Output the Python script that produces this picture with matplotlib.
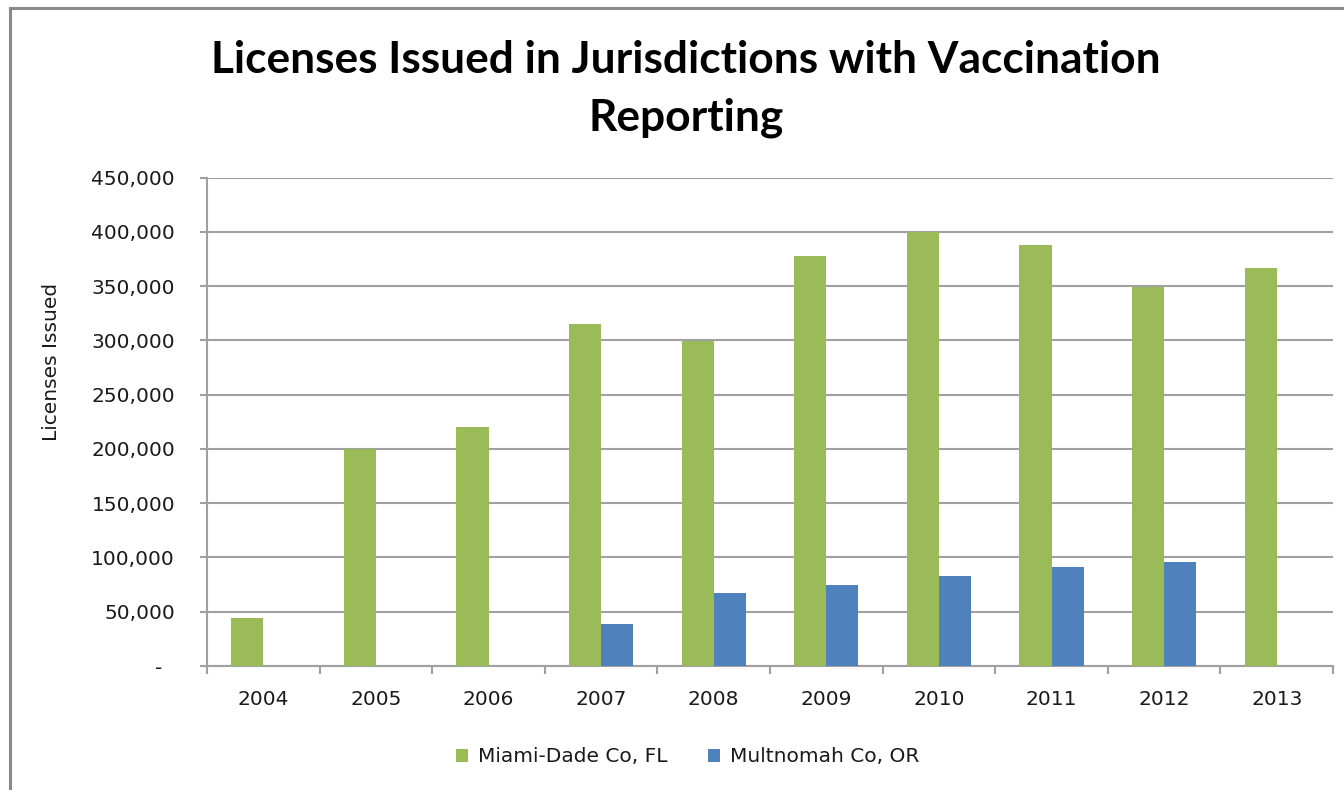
import numpy as np
import matplotlib
matplotlib.use("Agg")
import matplotlib.pyplot as plt
from matplotlib.ticker import FuncFormatter, FixedLocator, MultipleLocator
from matplotlib.patches import Rectangle

years = ["2004", "2005", "2006", "2007", "2008", "2009", "2010", "2011", "2012", "2013"]
miami_dade = [44000, 200000, 220000, 315000, 299000, 378000, 400000, 388000, 349000, 367000]
multnomah = [np.nan, np.nan, np.nan, 39000, 67500, 75000, 82500, 91000, 95500, np.nan]
series_names = ["Miami-Dade Co, FL", "Multnomah Co, OR"]
title_lines = ["Licenses Issued in Jurisdictions with Vaccination", "Reporting"]
y_label = "Licenses Issued"

GREEN = "#9BBB59"
BLUE = "#4F81BD"
GRID = "#A0A0A0"
W, H = 1344, 790

fig = plt.figure(figsize=(W / 100, H / 100), dpi=100)
ax = fig.add_axes([207 / W, 1 - 666 / H, (1333 - 207) / W, (666 - 177.5) / H])

x = np.arange(len(years))
bw = 0.285
ax.bar(x - bw / 2, miami_dade, bw, color=GREEN, label=series_names[0], zorder=3)
ax.bar(x + bw / 2, multnomah, bw, color=BLUE, label=series_names[1], zorder=3)

ax.set_xlim(-0.5, len(years) - 0.5)
ax.set_ylim(0, 450000)
ax.yaxis.set_major_locator(MultipleLocator(50000))
ax.yaxis.set_major_formatter(FuncFormatter(lambda v, p: "-  " if v == 0 else f"{v:,.0f}"))
ax.grid(axis="y", color=GRID, linewidth=1.5, zorder=0)
ax.set_axisbelow(True)

ax.set_xticks(x)
ax.set_xticklabels(years)
ax.xaxis.set_minor_locator(FixedLocator(np.arange(-0.5, len(years), 1.0)))
ax.tick_params(axis="x", which="major", length=0, pad=17, labelsize=14.5, labelcolor="#1a1a1a")
ax.tick_params(axis="x", which="minor", length=6, width=1.5, color=GRID, direction="out")
ax.tick_params(axis="y", which="major", length=5, width=1.5, color=GRID, pad=18,
               labelsize=14.5, labelcolor="#1a1a1a")

for s in ["top", "right"]:
    ax.spines[s].set_visible(False)
for s in ["left", "bottom"]:
    ax.spines[s].set_color(GRID)
    ax.spines[s].set_linewidth(1.5)

fig.text(52 / W, 1 - 362 / H, y_label, rotation=90, ha="center", va="center",
         fontsize=14.5, color="#1a1a1a")

# title
tfont = dict(family=["Lato", "DejaVu Sans"], weight="bold", color="black", fontsize=31.9)
fig.text(686 / W, 1 - 73 / H, title_lines[0], ha="center", va="baseline", **tfont)
fig.text(686 / W, 1 - 131 / H, title_lines[1], ha="center", va="baseline", **tfont)

leg = fig.legend(loc="center", bbox_to_anchor=(688 / W, 1 - 757 / H), ncol=2, frameon=False,
                 fontsize=14.5, handlelength=0.6, handleheight=0.6, handletextpad=0.5,
                 columnspacing=2.0)
for t in leg.get_texts():
    t.set_color("#1a1a1a")

fig.patches.append(Rectangle((10 / W, -0.1), 1.2, 1.1 - 8 / H, transform=fig.transFigure,
                             fill=False, edgecolor="#8a8a8a", linewidth=2.2))

fig.savefig("out.png", dpi=100, facecolor="white")
